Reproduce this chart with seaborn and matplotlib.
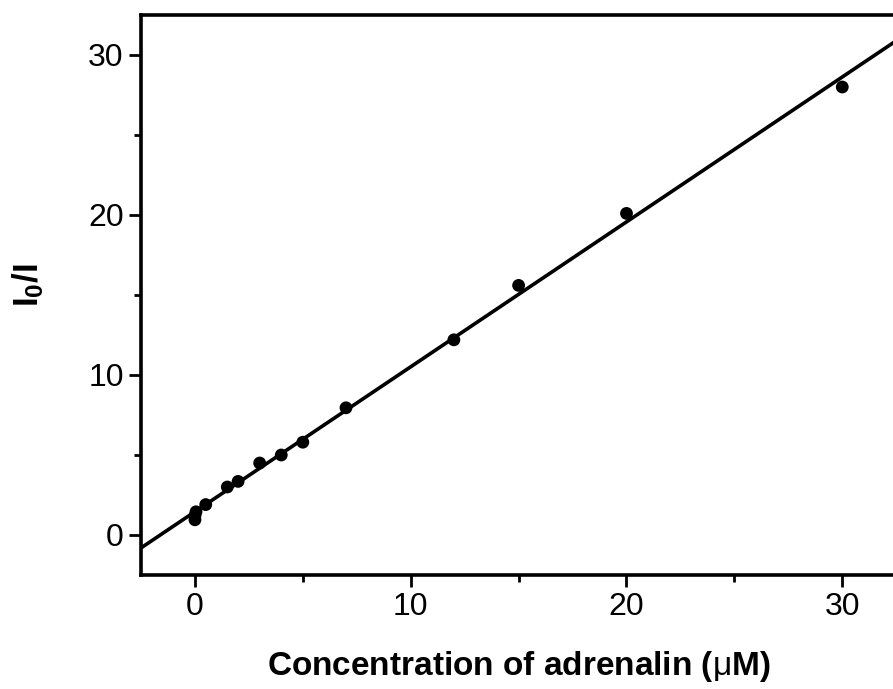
import numpy as np
import pandas as pd
import matplotlib
matplotlib.use("Agg")
import matplotlib.pyplot as plt
from matplotlib.ticker import MultipleLocator
import seaborn as sns

# Data
conc = [0.0, 0.0, 0.05, 0.5, 1.5, 2.0, 3.0, 4.0, 5.0, 7.0, 12.0, 15.0, 20.0, 30.0]
ratio = [0.95, 1.2, 1.45, 1.9, 3.0, 3.35, 4.5, 5.0, 5.8, 7.95, 12.2, 15.6, 20.1, 28.0]
x_ticks = [0, 10, 20, 30]
y_ticks = [0, 10, 20, 30]

df = pd.DataFrame({"conc": conc, "ratio": ratio})

sns.set_theme(style="ticks")
plt.rcParams["font.family"] = ["Liberation Sans", "DejaVu Sans"]
plt.rcParams["mathtext.fontset"] = "custom"
plt.rcParams["mathtext.rm"] = "Liberation Sans"
plt.rcParams["mathtext.bf"] = "Liberation Sans:bold"
plt.rcParams["mathtext.it"] = "Liberation Sans:italic"
plt.rcParams["text.color"] = "black"
plt.rcParams["axes.labelcolor"] = "black"

fig = plt.figure(figsize=(8.93, 6.89), dpi=100)
ax = fig.add_axes([141 / 893, 114 / 689, 766 / 893, 560 / 689])
ax.set_xlim(-2.5, 33)
ax.set_ylim(-2.5, 32.5)

sns.regplot(data=df, x="conc", y="ratio", ax=ax, ci=None, truncate=False,
            color="black",
            scatter_kws=dict(s=85, color="black", edgecolor="none", alpha=1, zorder=3),
            line_kws=dict(lw=2.6, color="black", zorder=2))

ax.set_xlim(-2.5, 33)
ax.set_ylim(-2.5, 32.5)
ax.set_xticks(x_ticks)
ax.set_yticks(y_ticks)
ax.xaxis.set_minor_locator(MultipleLocator(5))
ax.yaxis.set_minor_locator(MultipleLocator(5))
ax.tick_params(which="major", direction="out", length=8.5, width=2.0,
               labelsize=23, pad=4, color="black", labelcolor="black")
ax.tick_params(which="minor", direction="out", length=5, width=2.0, color="black")

for sp in ax.spines.values():
    sp.set_visible(True)
    sp.set_linewidth(2.6)
    sp.set_color("black")

ax.set_xlabel(r"Concentration of adrenalin ($\mathrm{\mu}$M)", fontsize=24,
              fontweight="bold", color="black")
ax.set_ylabel(r"$\mathbf{I_0/I}$", fontsize=25, color="black")
ax.xaxis.set_label_coords(0.4928, -0.132)
ax.yaxis.set_label_coords(-0.124, 0.518)

fig.savefig("out.png", dpi=100)
